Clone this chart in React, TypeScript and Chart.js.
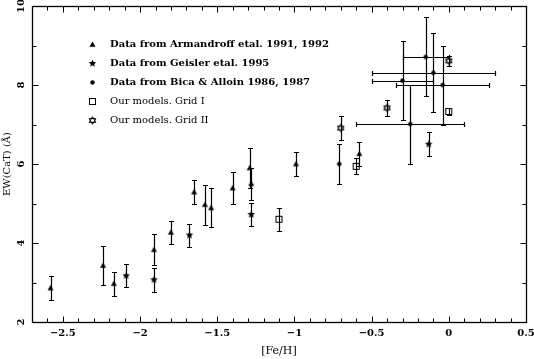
import React, { useEffect, useRef } from "react";
import { Chart, registerables } from "chart.js";

Chart.register(...registerables);

// ---- Data ----
// Armandroff et al. 1991, 1992 (filled triangles)
const armFeH = [-2.58, -2.24, -2.17, -1.91, -1.80, -1.65, -1.58, -1.54, -1.40, -1.29, -1.28, -0.99, -0.58];
const armEW = [2.86, 3.43, 2.97, 3.83, 4.27, 5.29, 4.97, 4.89, 5.39, 5.90, 5.50, 6.00, 6.26];
const armErr = [0.30, 0.49, 0.30, 0.39, 0.29, 0.30, 0.51, 0.49, 0.40, 0.51, 0.40, 0.30, 0.30];

// Geisler et al. 1995 (filled stars)
const geiFeH = [-2.09, -1.91, -1.68, -1.28, -0.13];
const geiEW = [3.17, 3.07, 4.20, 4.72, 6.50];
const geiErr = [0.29, 0.30, 0.29, 0.30, 0.31];

// Bica & Alloin 1986, 1987 (filled dots)
const bicaFeH = [-0.71, -0.15, -0.10, -0.30, -0.04, -0.25];
const bicaEW = [6.00, 8.71, 8.31, 8.11, 8.00, 7.01];
const bicaErrY = [0.51, 1.0, 1.0, 1.0, 1.0, 1.0];
const bicaErrX = [0, 0.15, 0.40, 0.20, 0.30, 0.35];

// Our models, Grid I (open squares)
const grid1FeH = [-1.10, -0.60, 0.00];
const grid1EW = [4.60, 5.94, 7.33];
const grid1Err = [0.29, 0.20, 0.10];

// Our models, Grid II (hexagrams)
const grid2FeH = [-0.70, -0.40, 0.00];
const grid2EW = [6.91, 7.42, 8.61];
const grid2Err = [0.30, 0.20, 0.12];

const seriesLabels = [
  "Data from Armandroff etal. 1991, 1992",
  "Data from Geisler etal. 1995",
  "Data from Bica & Alloin 1986, 1987",
  "Our models. Grid I",
  "Our models. Grid II",
];
const xTickLabels = [-2.5, -2, -1.5, -1, -0.5, 0, 0.5];
const yTickLabels = [2, 4, 6, 8, 10];

// ---- Marker canvases ----
function makeMarker(kind: string): HTMLCanvasElement {
  const s = 11;
  const c = document.createElement("canvas");
  c.width = s;
  c.height = s;
  const g = c.getContext("2d")!;
  const cx = s / 2, cy = s / 2;
  g.fillStyle = "#000";
  g.strokeStyle = "#000";
  g.lineWidth = 1;
  if (kind === "triangle") {
    g.beginPath();
    g.moveTo(cx, cy - 3);
    g.lineTo(cx + 3, cy + 2.2);
    g.lineTo(cx - 3, cy + 2.2);
    g.closePath();
    g.fill();
  } else if (kind === "star") {
    g.beginPath();
    for (let i = 0; i < 10; i++) {
      const r = i % 2 === 0 ? 4 : 1.8;
      const a = -Math.PI / 2 + (i * Math.PI) / 5;
      const px = cx + r * Math.cos(a), py = cy + r * Math.sin(a);
      if (i === 0) g.moveTo(px, py); else g.lineTo(px, py);
    }
    g.closePath();
    g.fill();
  } else if (kind === "circle") {
    g.beginPath();
    g.arc(cx, cy, 2.2, 0, Math.PI * 2);
    g.fill();
  } else if (kind === "square") {
    g.strokeRect(2.5, 2.5, 6, 6);
  } else if (kind === "hexagram") {
    const r = 3.8;
    for (let t = 0; t < 2; t++) {
      g.beginPath();
      for (let i = 0; i < 3; i++) {
        const a = -Math.PI / 2 + t * Math.PI + (i * 2 * Math.PI) / 3;
        const px = cx + r * Math.cos(a), py = cy + r * Math.sin(a);
        if (i === 0) g.moveTo(px, py); else g.lineTo(px, py);
      }
      g.closePath();
      g.stroke();
    }
  }
  return c;
}

const errorBarPlugin = {
  id: "errorBars",
  beforeDatasetsDraw(chart: any) {
    const { ctx } = chart;
    const xs = chart.scales.x, ys = chart.scales.y;
    const cap = 2.5;
    ctx.save();
    ctx.strokeStyle = "#000";
    ctx.lineWidth = 1.2;
    chart.data.datasets.forEach((ds: any) => {
      ds.data.forEach((p: any) => {
        const px = Math.round(xs.getPixelForValue(p.x)) + 0.5;
        const py = Math.round(ys.getPixelForValue(p.y)) + 0.5;
        if (p.yErr) {
          const y1 = Math.round(ys.getPixelForValue(p.y + p.yErr)) + 0.5;
          const y2 = Math.round(ys.getPixelForValue(p.y - p.yErr)) + 0.5;
          ctx.beginPath();
          ctx.moveTo(px, y1); ctx.lineTo(px, y2);
          ctx.moveTo(px - cap, y1); ctx.lineTo(px + cap, y1);
          ctx.moveTo(px - cap, y2); ctx.lineTo(px + cap, y2);
          ctx.stroke();
        }
        if (p.xErr) {
          const x1 = Math.round(xs.getPixelForValue(p.x - p.xErr)) + 0.5;
          const x2 = Math.round(xs.getPixelForValue(p.x + p.xErr)) + 0.5;
          ctx.beginPath();
          ctx.moveTo(x1, py); ctx.lineTo(x2, py);
          ctx.moveTo(x1, py - cap); ctx.lineTo(x1, py + cap);
          ctx.moveTo(x2, py - cap); ctx.lineTo(x2, py + cap);
          ctx.stroke();
        }
      });
    });
    ctx.restore();
  },
};

const framePlugin = {
  id: "frame",
  afterDraw(chart: any) {
    const { ctx, chartArea: a } = chart;
    const xs = chart.scales.x, ys = chart.scales.y;
    ctx.save();
    ctx.strokeStyle = "#000";
    ctx.lineWidth = 1.3;
    const L = Math.round(a.left) + 0.5, R = Math.round(a.right) + 0.5;
    const T = Math.round(a.top) + 0.5, B = Math.round(a.bottom) + 0.5;
    ctx.strokeRect(L, T, R - L, B - T);
    ctx.lineWidth = 1;
    ctx.beginPath();
    xs.ticks.forEach((t: any) => {
      const v = t.value;
      const major = Math.abs(Math.round(v * 10) % 5) === 0;
      const len = major ? 6 : 4;
      const px = Math.round(xs.getPixelForValue(v)) + 0.5;
      ctx.moveTo(px, B); ctx.lineTo(px, B - len);
      ctx.moveTo(px, T); ctx.lineTo(px, T + len);
    });
    ys.ticks.forEach((t: any) => {
      const v = t.value;
      const major = Math.round(v) % 2 === 0;
      const len = major ? 6 : 4;
      const py = Math.round(ys.getPixelForValue(v)) + 0.5;
      ctx.moveTo(L, py); ctx.lineTo(L + len, py);
      ctx.moveTo(R, py); ctx.lineTo(R - len, py);
    });
    ctx.stroke();
    ctx.restore();
  },
};

const legendPlugin = {
  id: "innerLegend",
  afterDraw(chart: any) {
    const { ctx, chartArea: a } = chart;
    ctx.save();
    ctx.fillStyle = "#000";
    ctx.textBaseline = "middle";
    ctx.textAlign = "left";
    chart.data.datasets.forEach((ds: any, i: number) => {
      const y = a.top + 38 + i * 19;
      const img = ds.pointStyle as HTMLCanvasElement;
      ctx.drawImage(img, Math.round(a.left + 60 - img.width / 2), Math.round(y - img.height / 2));
      ctx.font = (i < 3 ? "bold " : "") + "10px 'DejaVu Serif'";
      ctx.fillText(ds.label, a.left + 78, y);
    });
    ctx.restore();
  },
};

export default function App() {
  const ref = useRef<HTMLCanvasElement | null>(null);

  useEffect(() => {
    if (!ref.current) return;
    const mk = (xsArr: number[], ysArr: number[], ey: number[], ex?: number[]) =>
      xsArr.map((x, i) => ({ x, y: ysArr[i], yErr: ey[i], xErr: ex ? ex[i] : 0 }));

    const common = { showLine: false, pointRadius: 4, pointHoverRadius: 4 };
    const tickFont = { family: "'DejaVu Serif'", size: 10, weight: "bold" as const };

    const chart = new Chart(ref.current, {
      type: "scatter",
      data: {
        datasets: [
          { label: seriesLabels[0], data: mk(armFeH, armEW, armErr), pointStyle: makeMarker("triangle"), ...common },
          { label: seriesLabels[1], data: mk(geiFeH, geiEW, geiErr), pointStyle: makeMarker("star"), ...common },
          { label: seriesLabels[2], data: mk(bicaFeH, bicaEW, bicaErrY, bicaErrX), pointStyle: makeMarker("circle"), ...common },
          { label: seriesLabels[3], data: mk(grid1FeH, grid1EW, grid1Err), pointStyle: makeMarker("square"), ...common },
          { label: seriesLabels[4], data: mk(grid2FeH, grid2EW, grid2Err), pointStyle: makeMarker("hexagram"), ...common },
        ] as any,
      },
      options: {
        responsive: false,
        animation: false,
        events: [],
        layout: { padding: { top: 6, right: 8, left: 0, bottom: 0 } },
        plugins: { legend: { display: false }, tooltip: { enabled: false } },
        scales: {
          x: {
            type: "linear",
            min: -2.7,
            max: 0.5,
            grid: { display: false, drawTicks: false },
            border: { display: false },
            ticks: {
              stepSize: 0.1,
              autoSkip: false,
              maxRotation: 0,
              minRotation: 0,
              color: "#000",
              font: tickFont,
              padding: 5,
              callback: (v: any) => {
                const n = Number(v);
                const hit = xTickLabels.find((t) => Math.abs(t - n) < 1e-6);
                if (hit === undefined) return "";
                return hit < 0 ? "\u2212" + String(Math.abs(hit)) : String(hit);
              },
            },
            title: {
              display: true,
              text: "[Fe/H]",
              color: "#000",
              font: { family: "'DejaVu Serif'", size: 11 },
              padding: { top: 0, bottom: 1 },
            },
            afterFit: (s: any) => {
              s.height = 37;
              s.paddingLeft = 0;
              s.paddingRight = 0;
            },
          },
          y: {
            type: "linear",
            min: 2,
            max: 10,
            grid: { display: false, drawTicks: false },
            border: { display: false },
            ticks: {
              stepSize: 1,
              autoSkip: false,
              minRotation: 90,
              maxRotation: 90,
              crossAlign: "center",
              color: "#000",
              font: tickFont,
              padding: 4,
              callback: (v: any) => {
                const n = Number(v);
                const hit = yTickLabels.find((t) => Math.abs(t - n) < 1e-6);
                return hit === undefined ? "" : String(hit);
              },
            },
            title: {
              display: true,
              text: "EW(CaT) (\u00c5)",
              color: "#000",
              font: { family: "'DejaVu Serif'", size: 10 },
              padding: { top: 1, bottom: 0 },
            },
            afterFit: (s: any) => {
              s.width = 32;
              s.paddingTop = 0;
              s.paddingBottom = 0;
            },
          },
        },
      },
      plugins: [errorBarPlugin, framePlugin, legendPlugin],
    });
    return () => chart.destroy();
  }, []);

  return (
    <div style={{ position: "absolute", left: 0, top: 0, width: 534, height: 359, background: "#fff" }}>
      <canvas ref={ref} width={534} height={359} style={{ display: "block" }} />
    </div>
  );
}
